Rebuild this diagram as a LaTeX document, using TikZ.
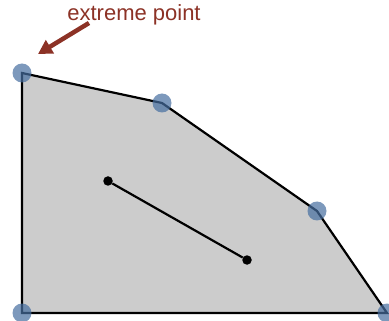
\documentclass[tikz,border=0pt]{standalone}
\usepackage{fontspec}
\setmainfont{Liberation Sans}
\usetikzlibrary{arrows.meta}
\definecolor{rotbraun}{RGB}{140,50,38}
\definecolor{blaupunkt}{RGB}{70,110,160}

\begin{document}
\begin{tikzpicture}[
x=1pt, y=-1pt,
flaeche/.style={fill=black!20, draw=black, line width=2.2pt, line join=miter},
ecke/.style={circle, fill=blaupunkt, fill opacity=0.7, inner sep=0pt, minimum size=19pt},
punkt/.style={circle, fill=black, inner sep=0pt, minimum size=9.5pt},
pfeil/.style={-{Triangle[length=14pt,width=15pt]}, line width=4.5pt, rotbraun}
]
\useasboundingbox (0,0) rectangle (389,321);
\coordinate (a) at (22,73);
\coordinate (b) at (162,103);
\coordinate (c) at (317,211);
\coordinate (d) at (387,313);
\coordinate (e) at (22,313);

\draw[flaeche] (a) -- (b) -- (c) -- (d) -- (e) -- cycle;

\node[punkt] (p) at (108,181) {};
\node[punkt] (q) at (247,260) {};
\draw[line width=2.2pt] (p) -- (q);

\foreach \v in {a,b,c,d,e}
  \node[ecke] (k\v) at (\v) {};

\node[rotbraun, font=\fontsize{22}{26}\selectfont, anchor=base] (label) at (134,21) {extreme point};
\coordinate (ansatz) at (89,23);
\coordinate (spitze) at (38,54);
\draw[pfeil] (ansatz) -- (spitze);
\end{tikzpicture}
\end{document}
